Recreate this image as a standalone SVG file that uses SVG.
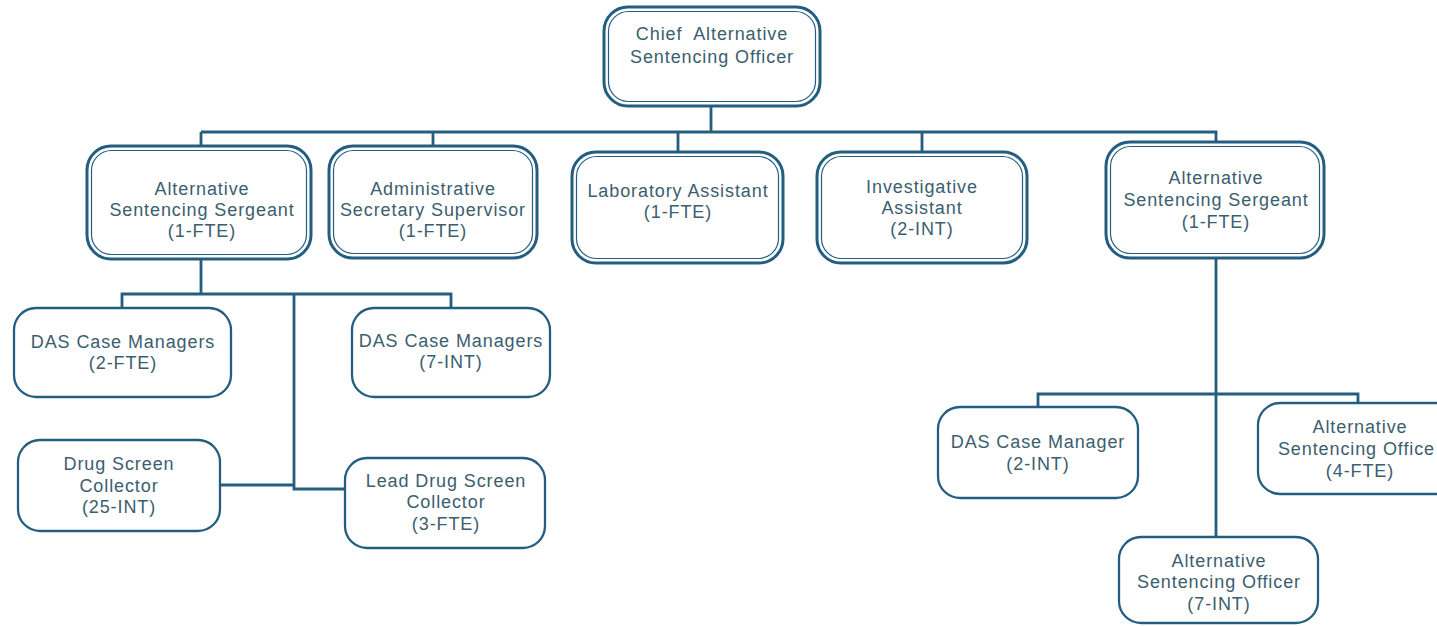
<svg xmlns="http://www.w3.org/2000/svg" width="1437" height="626" viewBox="0 0 1437 626">
<style>
.outer{fill:#fff;stroke:#235e80;stroke-width:3}
.inner{fill:none;stroke:#235e80;stroke-width:1.2}
.single{fill:#fff;stroke:#235e80;stroke-width:2.3}
.conn{fill:none;stroke:#235e80;stroke-width:2.8}
text{font-family:"Liberation Sans",Arial,sans-serif;font-size:18px;fill:#3b5e6e;text-anchor:middle;letter-spacing:0.9px}
.pre{white-space:pre}
</style>
<rect width="1437" height="626" fill="#fff"/>
<g id="connectors">
<path class="conn" d="M711 106 V132 M201 132 H1216 V142 M201 132 V146 M433 132 V146 M678 132 V152 M922 132 V152"/>
<path class="conn" d="M201 259 V294 M122 308 V294 H451 V308 M294 294 V489 H345 M220 485 H294"/>
<path class="conn" d="M1216 258 V537 M1038 407 V394 H1358 V403"/>
</g>
<g id="chief">
<rect class="outer" x="604" y="7" width="216" height="99" rx="24"/>
<rect class="inner" x="608.5" y="11.5" width="207" height="90" rx="20"/>
<text class="pre" x="712" y="40">Chief  Alternative</text>
<text x="712" y="63">Sentencing Officer</text>
</g>
<g id="sergeant-left">
<rect class="outer" x="87" y="146" width="224" height="113" rx="24"/>
<rect class="inner" x="91.5" y="150.5" width="215" height="104" rx="20"/>
<text x="202" y="195">Alternative</text>
<text x="202" y="216">Sentencing Sergeant</text>
<text x="202" y="237">(1-FTE)</text>
</g>
<g id="admin-secretary">
<rect class="outer" x="329" y="146" width="208" height="112" rx="24"/>
<rect class="inner" x="333.5" y="150.5" width="199" height="103" rx="20"/>
<text x="433" y="195">Administrative</text>
<text x="433" y="216">Secretary Supervisor</text>
<text x="433" y="237">(1-FTE)</text>
</g>
<g id="lab-assistant">
<rect class="outer" x="572" y="152" width="211" height="111" rx="24"/>
<rect class="inner" x="576.5" y="156.5" width="202" height="102" rx="20"/>
<text x="678" y="197">Laboratory Assistant</text>
<text x="678" y="218">(1-FTE)</text>
</g>
<g id="investigative-assistant">
<rect class="outer" x="817" y="152" width="210" height="111" rx="24"/>
<rect class="inner" x="821.5" y="156.5" width="201" height="102" rx="20"/>
<text x="922" y="193">Investigative</text>
<text x="922" y="214">Assistant</text>
<text x="922" y="235">(2-INT)</text>
</g>
<g id="sergeant-right">
<rect class="outer" x="1106" y="142" width="218" height="116" rx="24"/>
<rect class="inner" x="1110.5" y="146.5" width="209" height="107" rx="20"/>
<text x="1216" y="184">Alternative</text>
<text x="1216" y="206">Sentencing Sergeant</text>
<text x="1216" y="228">(1-FTE)</text>
</g>
<g id="das-2fte">
<rect class="single" x="14" y="308" width="217" height="89" rx="22"/>
<text x="123" y="348">DAS Case Managers</text>
<text x="123" y="369">(2-FTE)</text>
</g>
<g id="das-7int">
<rect class="single" x="352" y="308" width="198" height="89" rx="22"/>
<text x="451" y="347">DAS Case Managers</text>
<text x="451" y="368">(7-INT)</text>
</g>
<g id="drug-screen">
<rect class="single" x="18" y="440" width="202" height="91" rx="22"/>
<text x="119" y="470">Drug Screen</text>
<text x="119" y="492">Collector</text>
<text x="119" y="513">(25-INT)</text>
</g>
<g id="lead-drug-screen">
<rect class="single" x="345" y="458" width="200" height="90" rx="22"/>
<text x="446" y="487">Lead Drug Screen</text>
<text x="446" y="508">Collector</text>
<text x="446" y="530">(3-FTE)</text>
</g>
<g id="das-2int">
<rect class="single" x="938" y="407" width="200" height="91" rx="22"/>
<text x="1038" y="448">DAS Case Manager</text>
<text x="1038" y="470">(2-INT)</text>
</g>
<g id="aso-4fte">
<rect class="single" x="1258" y="403" width="200" height="91" rx="22"/>
<text x="1360" y="433">Alternative</text>
<text x="1435" y="455" style="text-anchor:end">Sentencing Office</text>
<text x="1360" y="477">(4-FTE)</text>
</g>
<g id="aso-7int">
<rect class="single" x="1119" y="537" width="199" height="86" rx="22"/>
<text x="1219" y="567">Alternative</text>
<text x="1219" y="588">Sentencing Officer</text>
<text x="1219" y="610">(7-INT)</text>
</g>
</svg>
